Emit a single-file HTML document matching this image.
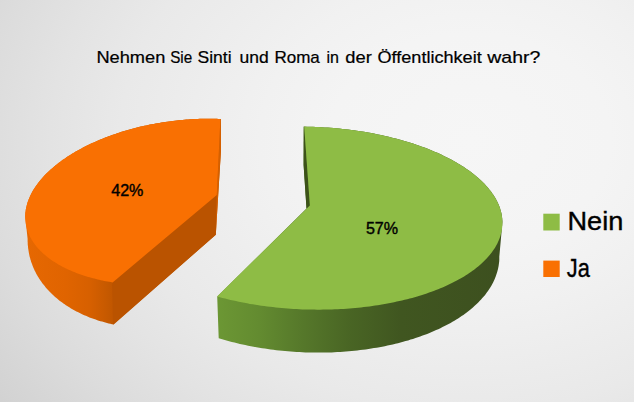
<!DOCTYPE html>
<html><head><meta charset="utf-8"><style>
html,body{margin:0;padding:0;}
body{width:634px;height:402px;overflow:hidden;background:#dcdcdc;font-family:"Liberation Sans",sans-serif;}
svg{position:absolute;left:0;top:0;display:block;}
text{font-family:"Liberation Sans",sans-serif;fill:#000;stroke:#000;stroke-width:0.4px;}
#title text{stroke-width:0.22px;}
</style></head><body>
<svg width="634" height="402" viewBox="0 0 634 402">
<defs>
<radialGradient id="bg" gradientUnits="userSpaceOnUse" cx="469.9" cy="141.1" r="700" gradientTransform="translate(469.9 141.1) scale(1 0.7692) translate(-469.9 -141.1)">
<stop offset="0" stop-color="#f6f6f6"/><stop offset="0.1" stop-color="#f5f5f5"/><stop offset="0.2" stop-color="#f4f4f4"/><stop offset="0.3" stop-color="#f1f1f1"/><stop offset="0.4" stop-color="#ededed"/><stop offset="0.5" stop-color="#e9e9e9"/><stop offset="0.6" stop-color="#e3e3e3"/><stop offset="0.7" stop-color="#dcdcdc"/><stop offset="0.8" stop-color="#d4d4d4"/><stop offset="0.9" stop-color="#cccccc"/><stop offset="1.0" stop-color="#c2c2c2"/>
</radialGradient>
<linearGradient id="oside" gradientUnits="userSpaceOnUse" x1="26" y1="0" x2="114" y2="0">
<stop offset="0" stop-color="#e66802"/><stop offset="0.45" stop-color="#e06400"/><stop offset="0.72" stop-color="#d76000"/><stop offset="0.9" stop-color="#c85a00"/><stop offset="1" stop-color="#bf5600"/>
</linearGradient>
<linearGradient id="gside" gradientUnits="userSpaceOnUse" x1="217" y1="0" x2="500" y2="0">
<stop offset="0" stop-color="#6c9734"/><stop offset="0.15" stop-color="#638b30"/><stop offset="0.31" stop-color="#55772a"/><stop offset="0.47" stop-color="#496524"/><stop offset="0.65" stop-color="#405620"/><stop offset="1" stop-color="#3d501f"/>
</linearGradient>
</defs>
<rect width="634" height="402" fill="url(#bg)"/>
<path d="M220.4,119.0 L218.5,118.9 L216.7,118.8 L214.8,118.8 L212.9,118.7 L211.0,118.7 L209.1,118.7 L207.3,118.7 L205.4,118.7 L203.5,118.8 L201.6,118.8 L199.7,118.8 L197.8,118.9 L195.8,119.0 L193.9,119.1 L192.0,119.2 L190.1,119.3 L188.2,119.4 L186.3,119.6 L184.4,119.7 L182.4,119.9 L180.5,120.1 L178.6,120.3 L176.7,120.5 L174.8,120.7 L172.9,120.9 L170.9,121.2 L169.0,121.4 L167.1,121.7 L165.2,122.0 L163.3,122.2 L161.4,122.5 L159.5,122.9 L157.6,123.2 L155.7,123.5 L153.8,123.9 L151.9,124.2 L150.0,124.6 L148.2,125.0 L146.3,125.4 L144.4,125.8 L142.6,126.2 L140.7,126.6 L138.9,127.1 L137.0,127.5 L135.2,128.0 L133.3,128.5 L131.5,129.0 L129.7,129.5 L127.9,130.0 L126.1,130.5 L124.3,131.0 L122.5,131.6 L120.8,132.1 L119.0,132.7 L117.2,133.3 L115.5,133.9 L113.8,134.5 L112.0,135.1 L110.3,135.7 L108.6,136.3 L106.9,136.9 L105.2,137.6 L103.6,138.2 L101.9,138.9 L100.3,139.6 L98.6,140.3 L97.0,141.0 L95.4,141.7 L93.8,142.4 L92.2,143.1 L90.6,143.8 L89.1,144.6 L87.5,145.3 L86.0,146.1 L84.5,146.8 L83.0,147.6 L81.5,148.4 L80.1,149.2 L78.6,150.0 L77.2,150.8 L75.7,151.6 L74.3,152.4 L72.9,153.3 L71.6,154.1 L70.2,154.9 L68.9,155.8 L67.6,156.6 L66.2,157.5 L65.0,158.4 L63.7,159.3 L62.4,160.1 L61.2,161.0 L60.0,161.9 L58.8,162.8 L57.6,163.7 L56.4,164.7 L55.3,165.6 L54.2,166.5 L53.1,167.4 L52.0,168.4 L50.9,169.3 L49.9,170.3 L48.8,171.2 L47.8,172.2 L46.9,173.1 L45.9,174.1 L44.9,175.1 L44.0,176.0 L43.1,177.0 L42.2,178.0 L41.4,179.0 L40.5,180.0 L39.7,181.0 L38.9,182.0 L38.1,183.0 L37.4,184.0 L36.7,185.0 L35.9,186.0 L35.3,187.0 L34.6,188.0 L33.9,189.0 L33.3,190.0 L32.7,191.0 L32.1,192.1 L31.6,193.1 L31.1,194.1 L30.6,195.1 L30.1,196.1 L29.6,197.2 L29.2,198.2 L28.7,199.2 L28.4,200.2 L28.0,201.3 L27.6,202.3 L27.3,203.3 L27.0,204.4 L26.7,205.4 L26.5,206.4 L26.2,207.4 L26.0,208.5 L25.8,209.5 L25.7,210.5 L25.6,211.5 L25.4,212.5 L25.3,213.6 L25.3,214.6 L25.2,215.6 L25.2,216.6 L27.6,238.8 L27.6,240.1 L27.6,241.4 L27.7,242.7 L27.7,244.0 L27.8,245.3 L28.0,246.6 L28.1,247.9 L28.3,249.2 L28.5,250.5 L28.7,251.8 L28.9,253.1 L29.2,254.4 L29.4,255.6 L29.7,256.9 L30.1,258.1 L30.4,259.4 L30.8,260.6 L31.2,261.9 L31.6,263.1 L32.1,264.3 L32.5,265.6 L33.0,266.8 L33.5,268.0 L34.1,269.2 L34.6,270.4 L35.2,271.5 L35.8,272.7 L36.4,273.9 L37.0,275.0 L37.7,276.2 L38.4,277.3 L39.1,278.5 L39.8,279.6 L40.6,280.7 L41.4,281.8 L42.1,282.9 L43.0,284.0 L43.8,285.1 L44.7,286.1 L45.5,287.2 L46.4,288.3 L47.3,289.3 L48.3,290.3 L49.2,291.3 L50.2,292.3 L51.2,293.3 L52.2,294.3 L53.3,295.3 L54.3,296.2 L55.4,297.2 L56.5,298.1 L57.6,299.1 L58.7,300.0 L59.9,300.9 L61.1,301.8 L62.2,302.6 L63.4,303.5 L64.7,304.3 L65.9,305.2 L67.2,306.0 L68.4,306.8 L69.7,307.6 L71.0,308.4 L72.4,309.2 L73.7,309.9 L75.1,310.7 L76.4,311.4 L77.8,312.1 L79.2,312.8 L80.7,313.5 L82.1,314.2 L83.6,314.9 L85.0,315.5 L86.5,316.1 L88.0,316.8 L89.5,317.4 L91.0,318.0 L92.6,318.5 L94.1,319.1 L95.7,319.6 L97.3,320.2 L98.8,320.7 L100.4,321.2 L102.1,321.6 L103.7,322.1 L105.3,322.6 L107.0,323.0 L108.6,323.4 L110.3,323.8 L112.0,324.2 L113.7,324.6 L215.8,234.7 L218.2,195.0 L221.0,150.0 L220.9,118.9Z" fill="url(#oside)"/>
<path d="M216.8,193.0 L112.0,280.4 L113.1,324.6 L215.8,234.7Z" fill="#ba5300"/>
<path d="M220.4,118.9 L220.9,118.9 L221.0,150.0 L218.2,195.0 L215.8,234.7 L216.8,195.0Z" fill="#d56000"/>
<path d="M216.8,195.0 L220.4,119.0 L218.5,118.9 L216.7,118.8 L214.8,118.8 L212.9,118.7 L211.0,118.7 L209.1,118.7 L207.3,118.7 L205.4,118.7 L203.5,118.8 L201.6,118.8 L199.7,118.8 L197.8,118.9 L195.8,119.0 L193.9,119.1 L192.0,119.2 L190.1,119.3 L188.2,119.4 L186.3,119.6 L184.4,119.7 L182.4,119.9 L180.5,120.1 L178.6,120.3 L176.7,120.5 L174.8,120.7 L172.9,120.9 L170.9,121.2 L169.0,121.4 L167.1,121.7 L165.2,122.0 L163.3,122.2 L161.4,122.5 L159.5,122.9 L157.6,123.2 L155.7,123.5 L153.8,123.9 L151.9,124.2 L150.0,124.6 L148.2,125.0 L146.3,125.4 L144.4,125.8 L142.6,126.2 L140.7,126.6 L138.9,127.1 L137.0,127.5 L135.2,128.0 L133.3,128.5 L131.5,129.0 L129.7,129.5 L127.9,130.0 L126.1,130.5 L124.3,131.0 L122.5,131.6 L120.8,132.1 L119.0,132.7 L117.2,133.3 L115.5,133.9 L113.8,134.5 L112.0,135.1 L110.3,135.7 L108.6,136.3 L106.9,136.9 L105.2,137.6 L103.6,138.2 L101.9,138.9 L100.3,139.6 L98.6,140.3 L97.0,141.0 L95.4,141.7 L93.8,142.4 L92.2,143.1 L90.6,143.8 L89.1,144.6 L87.5,145.3 L86.0,146.1 L84.5,146.8 L83.0,147.6 L81.5,148.4 L80.1,149.2 L78.6,150.0 L77.2,150.8 L75.7,151.6 L74.3,152.4 L72.9,153.3 L71.6,154.1 L70.2,154.9 L68.9,155.8 L67.6,156.6 L66.2,157.5 L65.0,158.4 L63.7,159.3 L62.4,160.1 L61.2,161.0 L60.0,161.9 L58.8,162.8 L57.6,163.7 L56.4,164.7 L55.3,165.6 L54.2,166.5 L53.1,167.4 L52.0,168.4 L50.9,169.3 L49.9,170.3 L48.8,171.2 L47.8,172.2 L46.9,173.1 L45.9,174.1 L44.9,175.1 L44.0,176.0 L43.1,177.0 L42.2,178.0 L41.4,179.0 L40.5,180.0 L39.7,181.0 L38.9,182.0 L38.1,183.0 L37.4,184.0 L36.7,185.0 L35.9,186.0 L35.3,187.0 L34.6,188.0 L33.9,189.0 L33.3,190.0 L32.7,191.0 L32.1,192.1 L31.6,193.1 L31.1,194.1 L30.6,195.1 L30.1,196.1 L29.6,197.2 L29.2,198.2 L28.7,199.2 L28.4,200.2 L28.0,201.3 L27.6,202.3 L27.3,203.3 L27.0,204.4 L26.7,205.4 L26.5,206.4 L26.2,207.4 L26.0,208.5 L25.8,209.5 L25.7,210.5 L25.6,211.5 L25.4,212.5 L25.3,213.6 L25.3,214.6 L25.2,215.6 L25.2,216.6 L25.2,217.6 L25.2,218.6 L25.3,219.6 L25.4,220.6 L25.5,221.6 L25.6,222.6 L25.7,223.6 L25.9,224.6 L26.1,225.6 L26.3,226.6 L26.6,227.6 L26.8,228.5 L27.1,229.5 L27.4,230.5 L27.8,231.5 L28.1,232.4 L28.5,233.4 L28.9,234.3 L29.3,235.3 L29.8,236.2 L30.2,237.1 L30.7,238.1 L31.3,239.0 L31.8,239.9 L32.4,240.8 L32.9,241.7 L33.5,242.6 L34.2,243.5 L34.8,244.4 L35.5,245.3 L36.2,246.2 L36.9,247.0 L37.7,247.9 L38.4,248.8 L39.2,249.6 L40.0,250.4 L40.8,251.3 L41.7,252.1 L42.6,252.9 L43.4,253.7 L44.4,254.5 L45.3,255.3 L46.2,256.1 L47.2,256.9 L48.2,257.7 L49.2,258.4 L50.2,259.2 L51.3,259.9 L52.4,260.7 L53.5,261.4 L54.6,262.1 L55.7,262.8 L56.9,263.5 L58.0,264.2 L59.2,264.9 L60.4,265.6 L61.6,266.2 L62.9,266.9 L64.1,267.5 L65.4,268.2 L66.7,268.8 L68.0,269.4 L69.4,270.0 L70.7,270.6 L72.1,271.2 L73.4,271.8 L74.8,272.3 L76.3,272.9 L77.7,273.4 L79.1,273.9 L80.6,274.4 L82.1,275.0 L83.5,275.5 L85.0,275.9 L86.6,276.4 L88.1,276.9 L89.6,277.3 L91.2,277.8 L92.8,278.2 L94.4,278.6 L96.0,279.0 L97.6,279.4 L99.2,279.8 L100.8,280.2 L102.5,280.5 L104.2,280.9 L105.8,281.2 L107.5,281.5 L109.2,281.8 L110.9,282.1 L112.6,282.4Z" fill="#f97002"/>
<path d="M303.7,126.8 L304.2,126.6 L307.2,126.7 L310.1,126.8 L313.1,126.8 L316.0,127.0 L319.0,127.1 L322.0,127.2 L324.9,127.4 L327.9,127.6 L330.8,127.8 L333.8,128.1 L336.7,128.3 L339.6,128.6 L342.5,128.9 L345.5,129.2 L348.4,129.6 L351.3,130.0 L354.2,130.3 L357.0,130.8 L359.9,131.2 L362.7,131.6 L365.6,132.1 L368.4,132.6 L371.2,133.1 L374.0,133.6 L376.8,134.2 L379.6,134.7 L382.3,135.3 L385.1,135.9 L387.8,136.6 L390.5,137.2 L393.1,137.9 L395.8,138.5 L398.4,139.2 L401.1,140.0 L403.6,140.7 L406.2,141.5 L408.8,142.2 L411.3,143.0 L413.8,143.8 L416.3,144.7 L418.7,145.5 L421.2,146.4 L423.6,147.2 L425.9,148.1 L428.3,149.0 L430.6,150.0 L432.9,150.9 L435.1,151.9 L437.4,152.8 L439.6,153.8 L441.7,154.8 L443.9,155.9 L446.0,156.9 L448.1,157.9 L450.1,159.0 L452.1,160.1 L454.1,161.2 L456.0,162.3 L457.9,163.4 L459.8,164.5 L461.7,165.7 L463.5,166.8 L465.2,168.0 L466.9,169.2 L468.6,170.3 L470.3,171.5 L471.9,172.8 L473.5,174.0 L475.0,175.2 L476.5,176.4 L478.0,177.7 L479.4,179.0 L480.8,180.2 L482.1,181.5 L483.4,182.8 L484.7,184.1 L485.9,185.4 L487.1,186.7 L488.2,188.0 L489.3,189.4 L490.4,190.7 L491.4,192.0 L492.3,193.4 L493.3,194.7 L494.1,196.1 L495.0,197.4 L495.8,198.8 L496.5,200.2 L497.2,201.6 L497.9,202.9 L498.5,204.3 L499.1,205.7 L499.6,207.1 L500.1,208.5 L500.5,209.9 L500.9,211.3 L501.3,212.7 L501.6,214.1 L501.8,215.5 L502.0,216.9 L502.2,218.3 L502.3,219.7 L502.4,221.1 L502.4,222.5 L499.3,256.8 L499.3,258.4 L499.3,259.9 L499.2,261.4 L499.0,263.0 L498.8,264.5 L498.6,266.0 L498.3,267.5 L498.0,269.1 L497.6,270.6 L497.2,272.1 L496.7,273.6 L496.2,275.1 L495.7,276.6 L495.1,278.1 L494.5,279.6 L493.8,281.0 L493.1,282.5 L492.3,284.0 L491.5,285.4 L490.6,286.9 L489.8,288.3 L488.8,289.7 L487.8,291.2 L486.8,292.6 L485.8,294.0 L484.7,295.4 L483.5,296.8 L482.3,298.1 L481.1,299.5 L479.8,300.8 L478.5,302.2 L477.2,303.5 L475.8,304.8 L474.4,306.1 L472.9,307.4 L471.4,308.7 L469.9,310.0 L468.3,311.2 L466.7,312.4 L465.0,313.7 L463.4,314.9 L461.6,316.1 L459.9,317.3 L458.1,318.4 L456.3,319.6 L454.4,320.7 L452.5,321.8 L450.6,322.9 L448.6,324.0 L446.6,325.1 L444.6,326.1 L442.5,327.1 L440.4,328.2 L438.3,329.2 L436.1,330.1 L434.0,331.1 L431.7,332.0 L429.5,333.0 L427.2,333.9 L424.9,334.7 L422.6,335.6 L420.2,336.5 L417.9,337.3 L415.5,338.1 L413.0,338.9 L410.6,339.6 L408.1,340.4 L405.6,341.1 L403.1,341.8 L400.5,342.5 L398.0,343.2 L395.4,343.8 L392.8,344.4 L390.1,345.0 L387.5,345.6 L384.8,346.2 L382.2,346.7 L379.5,347.2 L376.7,347.7 L374.0,348.1 L371.3,348.6 L368.5,349.0 L365.7,349.4 L362.9,349.8 L360.1,350.1 L357.3,350.5 L354.5,350.8 L351.7,351.0 L348.8,351.3 L345.9,351.5 L343.1,351.8 L340.2,351.9 L337.3,352.1 L334.4,352.3 L331.6,352.4 L328.7,352.5 L325.7,352.5 L322.8,352.6 L319.9,352.6 L317.0,352.6 L314.1,352.6 L311.2,352.5 L308.3,352.5 L305.4,352.4 L302.4,352.3 L299.5,352.1 L296.6,352.0 L293.7,351.8 L290.8,351.6 L287.9,351.3 L285.0,351.1 L282.1,350.8 L279.2,350.5 L276.3,350.2 L273.5,349.8 L270.6,349.5 L267.8,349.1 L264.9,348.6 L262.1,348.2 L259.3,347.7 L256.4,347.3 L253.6,346.8 L250.9,346.2 L248.1,345.7 L245.3,345.1 L242.6,344.5 L239.9,343.9 L237.2,343.3 L234.5,342.6 L231.8,341.9 L229.1,341.2 L226.5,340.5 L223.9,339.7 L221.3,339.0 L218.7,338.2 L217.2,296.5 L306.5,208.6 L303.6,165.0Z" fill="url(#gside)"/>
<path d="M303.8,126.6 L304.2,126.8 L309.9,205.4 L306.5,208.6 L303.6,165.0Z" fill="#3c5219"/>
<path d="M309.9,205.4 L304.2,126.6 L307.2,126.7 L310.1,126.8 L313.1,126.8 L316.0,127.0 L319.0,127.1 L322.0,127.2 L324.9,127.4 L327.9,127.6 L330.8,127.8 L333.8,128.1 L336.7,128.3 L339.6,128.6 L342.5,128.9 L345.5,129.2 L348.4,129.6 L351.3,130.0 L354.2,130.3 L357.0,130.8 L359.9,131.2 L362.7,131.6 L365.6,132.1 L368.4,132.6 L371.2,133.1 L374.0,133.6 L376.8,134.2 L379.6,134.7 L382.3,135.3 L385.1,135.9 L387.8,136.6 L390.5,137.2 L393.1,137.9 L395.8,138.5 L398.4,139.2 L401.1,140.0 L403.6,140.7 L406.2,141.5 L408.8,142.2 L411.3,143.0 L413.8,143.8 L416.3,144.7 L418.7,145.5 L421.2,146.4 L423.6,147.2 L425.9,148.1 L428.3,149.0 L430.6,150.0 L432.9,150.9 L435.1,151.9 L437.4,152.8 L439.6,153.8 L441.7,154.8 L443.9,155.9 L446.0,156.9 L448.1,157.9 L450.1,159.0 L452.1,160.1 L454.1,161.2 L456.0,162.3 L457.9,163.4 L459.8,164.5 L461.7,165.7 L463.5,166.8 L465.2,168.0 L466.9,169.2 L468.6,170.3 L470.3,171.5 L471.9,172.8 L473.5,174.0 L475.0,175.2 L476.5,176.4 L478.0,177.7 L479.4,179.0 L480.8,180.2 L482.1,181.5 L483.4,182.8 L484.7,184.1 L485.9,185.4 L487.1,186.7 L488.2,188.0 L489.3,189.4 L490.4,190.7 L491.4,192.0 L492.3,193.4 L493.3,194.7 L494.1,196.1 L495.0,197.4 L495.8,198.8 L496.5,200.2 L497.2,201.6 L497.9,202.9 L498.5,204.3 L499.1,205.7 L499.6,207.1 L500.1,208.5 L500.5,209.9 L500.9,211.3 L501.3,212.7 L501.6,214.1 L501.8,215.5 L502.0,216.9 L502.2,218.3 L502.3,219.7 L502.4,221.1 L502.4,222.5 L502.4,223.9 L502.4,225.3 L502.2,226.7 L502.1,228.1 L501.9,229.4 L501.7,230.8 L501.4,232.2 L501.0,233.6 L500.7,235.0 L500.2,236.4 L499.8,237.7 L499.3,239.1 L498.7,240.5 L498.1,241.8 L497.5,243.2 L496.8,244.5 L496.1,245.8 L495.3,247.2 L494.5,248.5 L493.6,249.8 L492.7,251.1 L491.7,252.4 L490.7,253.7 L489.7,255.0 L488.6,256.3 L487.5,257.6 L486.4,258.8 L485.1,260.1 L483.9,261.3 L482.6,262.5 L481.3,263.8 L479.9,265.0 L478.5,266.2 L477.1,267.3 L475.6,268.5 L474.1,269.7 L472.5,270.8 L470.9,272.0 L469.3,273.1 L467.6,274.2 L465.9,275.3 L464.1,276.4 L462.3,277.5 L460.5,278.5 L458.6,279.6 L456.8,280.6 L454.8,281.6 L452.9,282.6 L450.9,283.6 L448.8,284.6 L446.8,285.5 L444.7,286.5 L442.5,287.4 L440.4,288.3 L438.2,289.2 L436.0,290.1 L433.7,290.9 L431.5,291.8 L429.1,292.6 L426.8,293.4 L424.4,294.2 L422.1,295.0 L419.6,295.7 L417.2,296.4 L414.7,297.2 L412.2,297.9 L409.7,298.5 L407.2,299.2 L404.6,299.8 L402.0,300.5 L399.4,301.1 L396.8,301.6 L394.1,302.2 L391.5,302.8 L388.8,303.3 L386.1,303.8 L383.3,304.3 L380.6,304.7 L377.8,305.2 L375.1,305.6 L372.3,306.0 L369.5,306.4 L366.6,306.7 L363.8,307.1 L361.0,307.4 L358.1,307.7 L355.2,308.0 L352.3,308.2 L349.5,308.5 L346.6,308.7 L343.6,308.9 L340.7,309.1 L337.8,309.2 L334.9,309.3 L331.9,309.4 L329.0,309.5 L326.0,309.6 L323.1,309.6 L320.1,309.7 L317.2,309.7 L314.2,309.6 L311.2,309.6 L308.3,309.5 L305.3,309.5 L302.3,309.4 L299.4,309.2 L296.4,309.1 L293.5,308.9 L290.5,308.7 L287.6,308.5 L284.6,308.3 L281.7,308.0 L278.7,307.7 L275.8,307.4 L272.9,307.1 L270.0,306.8 L267.1,306.4 L264.2,306.1 L261.3,305.7 L258.5,305.2 L255.6,304.8 L252.8,304.3 L249.9,303.9 L247.1,303.3 L244.3,302.8 L241.5,302.3 L238.7,301.7 L236.0,301.1 L233.3,300.5 L230.5,299.9 L227.8,299.3 L225.1,298.6 L222.5,298.0 L219.8,297.3 L217.2,296.5Z" fill="#8ebc45"/>
<g font-size="17" id="title"><text x="96.4" y="62.7" textLength="68.9" lengthAdjust="spacingAndGlyphs">Nehmen</text><text x="170.2" y="62.7" textLength="22.0" lengthAdjust="spacingAndGlyphs">Sie</text><text x="197.5" y="62.7" textLength="34.1" lengthAdjust="spacingAndGlyphs">Sinti</text><text x="239.5" y="62.7" textLength="29.2" lengthAdjust="spacingAndGlyphs">und</text><text x="274.4" y="62.7" textLength="45.4" lengthAdjust="spacingAndGlyphs">Roma</text><text x="326.4" y="62.7" textLength="12.5" lengthAdjust="spacingAndGlyphs">in</text><text x="345.3" y="62.7" textLength="26.5" lengthAdjust="spacingAndGlyphs">der</text><text x="377.5" y="62.7" textLength="104.2" lengthAdjust="spacingAndGlyphs">Öffentlichkeit</text><text x="487.3" y="62.7" textLength="53.1" lengthAdjust="spacingAndGlyphs">wahr?</text></g>
<text x="127.3" y="195.6" font-size="16.1" text-anchor="middle" id="l42">42%</text>
<text x="382" y="233.5" font-size="16.1" text-anchor="middle" id="l57">57%</text>
<rect x="543.3" y="213.7" width="16.4" height="16.8" fill="#8ebc45"/>
<rect x="543.3" y="260.6" width="16.4" height="16.4" fill="#f97002"/>
<text x="567.5" y="230.4" font-size="26.6" id="nein" textLength="55.8" lengthAdjust="spacingAndGlyphs">Nein</text>
<text x="566.8" y="277" font-size="26.3" id="ja" textLength="23.0" lengthAdjust="spacingAndGlyphs">Ja</text>
</svg>
</body></html>
